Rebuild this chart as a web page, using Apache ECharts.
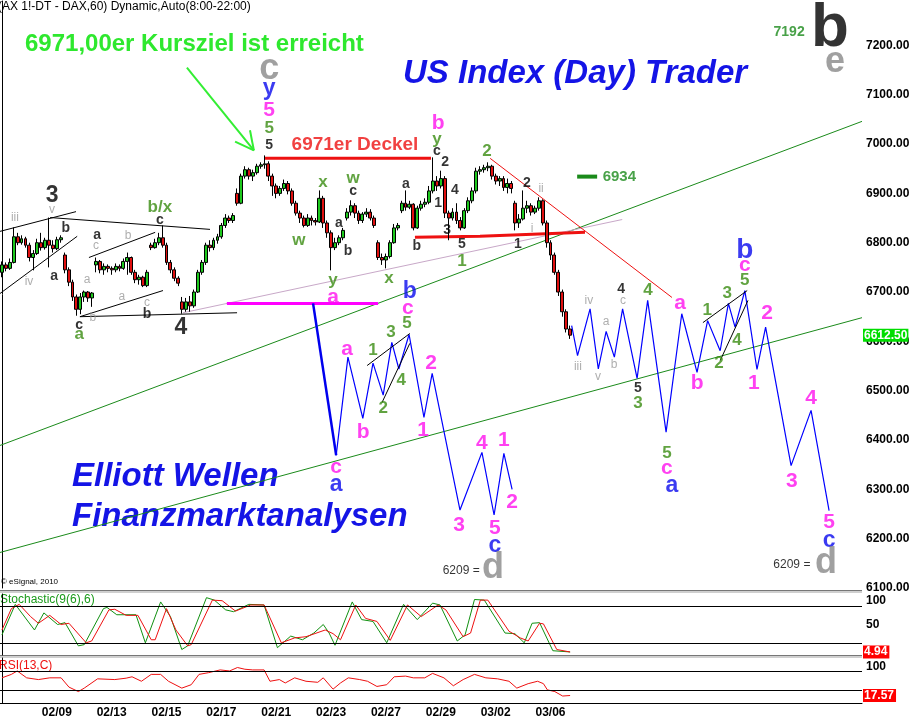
<!DOCTYPE html>
<html><head><meta charset="utf-8">
<script src="https://cdn.jsdelivr.net/npm/echarts@6/dist/echarts.min.js"></script>
<style>html,body{margin:0;padding:0;background:#fff}#c{width:920px;height:720px}</style>
</head><body><div id="c"></div>
<script>
// ---------- DATA ----------
const dateLabels = ['02/09','02/13','02/15','02/17','02/21','02/23','02/27','02/29','03/02','03/06'];
const barsPerDay = 14;
const nSlots = 220;
// candles: [open, close, low, high]
const candles = [
[6740,6755,6730,6762],[6755,6748,6742,6760],[6748,6760,6745,6768],[6760,6812,6758,6831],[6812,6800,6795,6820],
[6800,6808,6796,6815],[6808,6795,6790,6812],[6795,6770,6762,6800],[6770,6778,6744,6785],[6778,6800,6775,6808],
[6800,6790,6784,6820],[6790,6805,6786,6810],[6805,6795,6750,6851],[6795,6788,6780,6805],[6788,6806,6785,6812],
[6806,6810,6800,6815],[6775,6745,6738,6780],[6745,6720,6712,6750],[6720,6690,6682,6725],[6690,6665,6652,6695],
[6665,6690,6655,6698],[6690,6700,6680,6703],[6700,6688,6680,6702],[6688,6698,6670,6700],[6755,6762,6740,6770],
[6762,6745,6738,6765],[6745,6752,6735,6758],[6752,6748,6740,6756],[6748,6745,6735,6752],[6745,6752,6740,6758],
[6752,6748,6742,6756],[6748,6762,6745,6768],[6762,6770,6735,6780],[6770,6740,6735,6772],[6740,6725,6718,6745],
[6725,6730,6715,6735],[6730,6713,6710,6733],[6713,6740,6710,6745],[6795,6790,6785,6800],[6790,6800,6788,6808],
[6800,6810,6795,6820],[6810,6795,6790,6835],[6795,6760,6755,6800],[6760,6745,6738,6765],[6745,6728,6722,6750],
[6728,6718,6712,6732],[6680,6665,6656,6690],[6665,6680,6660,6688],[6680,6672,6660,6692],[6672,6700,6668,6705],
[6700,6740,6698,6745],[6740,6760,6735,6765],[6760,6795,6755,6800],[6795,6790,6782,6805],[6790,6805,6785,6810],
[6805,6812,6798,6818],[6812,6835,6808,6840],[6835,6850,6830,6858],[6850,6845,6840,6855],[6845,6855,6840,6860],
[6900,6880,6875,6910],[6880,6935,6878,6940],[6935,6948,6930,6955],[6948,6935,6928,6952],[6935,6942,6925,6948],
[6942,6955,6938,6960],[6955,6958,6950,6963],[6958,6960,6950,6977],[6960,6935,6925,6965],[6935,6915,6895,6940],
[6915,6900,6890,6920],[6900,6910,6895,6915],[6910,6920,6905,6928],[6920,6905,6898,6925],[6905,6880,6875,6910],
[6880,6860,6855,6885],[6860,6850,6840,6865],[6850,6835,6831,6855],[6835,6850,6832,6858],[6850,6845,6835,6855],
[6845,6842,6835,6850],[6842,6890,6840,6906],[6890,6840,6830,6895],[6840,6820,6810,6845],[6820,6790,6744,6825],
[6790,6800,6785,6810],[6800,6810,6795,6815],[6810,6825,6805,6830],[6850,6862,6845,6870],[6862,6875,6855,6886],
[6875,6860,6850,6880],[6860,6845,6838,6865],[6845,6858,6840,6862],[6858,6862,6852,6870],[6862,6850,6845,6868],
[6850,6835,6830,6855],[6800,6770,6765,6805],[6770,6765,6755,6778],[6765,6772,6748,6778],[6772,6800,6768,6805],
[6800,6830,6798,6838],[6830,6835,6825,6840],[6865,6880,6860,6885],[6880,6872,6865,6906],[6872,6878,6868,6885],
[6878,6830,6825,6880],[6830,6870,6828,6875],[6870,6878,6865,6885],[6878,6882,6872,6890],[6882,6905,6878,6915],
[6905,6925,6900,6973],[6925,6915,6905,6935],[6915,6930,6910,6946],[6930,6860,6850,6935],[6860,6850,6805,6865],
[6850,6862,6845,6870],[6862,6845,6838,6880],[6845,6830,6825,6852],[6830,6865,6828,6870],[6865,6885,6860,6892],
[6885,6905,6880,6912],[6905,6945,6900,6952],[6945,6948,6938,6955],[6948,6952,6942,6958],[6952,6955,6945,6963],
[6955,6935,6928,6958],[6935,6925,6918,6940],[6925,6930,6915,6935],[6930,6912,6905,6935],[6912,6920,6900,6930],
[6920,6910,6900,6925],[6880,6840,6825,6885],[6840,6848,6830,6858],[6848,6870,6845,6906],[6870,6875,6860,6885],
[6875,6862,6855,6880],[6862,6870,6858,6875],[6870,6885,6865,6892],[6885,6840,6835,6888],[6840,6800,6790,6845],
[6800,6775,6765,6805],[6775,6740,6735,6780],[6740,6700,6692,6745],[6700,6660,6650,6705],[6660,6625,6618,6665],
[6625,6612.5,6605,6632]
];
const lastPrice = 6612.5;
const deckel = 6971;
const level6934 = 6934;

// projections [slot index, price]
const scen1Lead = [[79.4,6677],[85.3,6369]];
const scen1 = [[85.3,6369],[88.3,6568],[92.1,6444],[94.7,6556],[97.3,6491],[99.5,6598],[101.3,6544],[103.9,6614],[107.7,6446],[109.8,6535],[116.9,6258],[122.5,6375],[125.6,6248],[128.1,6373],[130.2,6300]];
const scen2 = [[145.4,6632],[146.9,6571],[150.1,6666],[152.2,6544],[154.2,6620],[156.3,6568],[158.4,6666],[162.1,6525],[164.8,6683],[169.5,6416],[173.5,6656],[177.4,6537],[180.1,6642],[183.3,6581],[185.4,6677],[187.1,6629],[189.6,6703],[192.7,6543],[194.9,6629],[201.4,6348],[206.5,6460],[211.1,6257]];
const greenUpper = [[-0.5,6389],[219.5,7046]];
const greenLower = [[-0.5,6172],[219.5,6648]];
const redFall = [[124.6,6971],[171.0,6689]];
const deckelLine = [[67.1,deckel],[109.5,deckel]];
const redSupport = [[105.4,6811],[122,6813],[148.8,6821]];
const magentaLine = [[57.4,6677],[96.0,6677]];
const greyTrend = [[46.2,6658],[158.3,6847]];
const line6934 = [[146.8,level6934],[151.9,level6934]];
const blackSegs = [
 [[-0.5,6823],[18.9,6863]], [[-0.5,6697],[19.2,6813]], [[12.3,6851],[53.1,6827]],
 [[22.2,6770],[39.1,6821]], [[19.9,6650],[41.1,6703]], [[19.9,6650],[60.0,6658]],
 [[93.2,6551],[104.1,6616]], [[97.0,6476],[104.1,6596]],
 [[178.9,6638],[190.2,6703]], [[183.3,6561],[190.4,6683]]
];
const arrowSegs = [[[47.2,7155],[64.3,6987]], [[59.5,7005],[64.3,6987]], [[63.3,7028],[64.3,6987]]];

// wave labels [slot, price, text]
const lblMagenta = [[84.5,6689,'a'],[88.1,6584,'a'],[92.2,6416,'b'],[103.6,6668,'c'],[109.5,6556,'2'],[107.5,6420,'1'],[85.3,6345,'c'],[122.5,6394,'4'],[128.1,6400,'1'],[116.7,6228,'3'],[125.8,6221,'5'],[130.2,6274,'2'],[111.3,7042,'b'],[68.2,7068,'5'],[173.1,6677,'a'],[189.6,6754,'c'],[195.3,6657,'2'],[169.7,6343,'c'],[177.4,6515,'b'],[191.9,6515,'1'],[201.6,6317,'3'],[206.5,6485,'4'],[211.1,6234,'5']];
const lblBlue = [[68.2,7113,'y'],[104.1,6700,'b'],[85.3,6309,'a'],[125.8,6185,'c'],[171,6307,'a'],[211.1,6195,'c']];
const lblBlueBig = [[189.6,6785,'b']];
const lblGreen = [[68.2,7032,'5'],[40.3,6872,'b/x'],[19.7,6614,'a'],[75.8,6805,'w'],[81.9,6922,'x'],[89.6,6931,'w'],[84.5,6724,'y'],[98.8,6728,'x'],[111.0,7010,'y'],[117.4,6762,'1'],[123.8,6985,'2'],[103.4,6637,'5'],[99.3,6619,'3'],[94.7,6582,'1'],[101.9,6521,'4'],[97.3,6465,'2'],[164.9,6704,'4'],[180,6663,'1'],[185.1,6698,'3'],[189.6,6724,'5'],[187.6,6602,'4'],[183,6556,'2'],[162.3,6475,'3'],[169.7,6373,'5']];
const lblBlack = [[68.2,6997,'5'],[16.3,6829,'b'],[13.3,6732,'a'],[24.3,6815,'a'],[37.0,6655,'b'],[19.7,6633,'c'],[40.3,6845,'c'],[89.6,6904,'c'],[86.0,6839,'a'],[88.3,6783,'b'],[103.1,6918,'a'],[105.9,6793,'b'],[111.3,6880,'1'],[111.0,6985,'c'],[113.1,6963,'2'],[115.6,6906,'4'],[113.6,6825,'3'],[117.4,6797,'5'],[134,6920,'2'],[131.7,6797,'1'],[158,6706,'4'],[162.3,6505,'5']];
const lblBlackBig = [[12.8,6896,'3'],[45.7,6627,'4']];
const lblGrey = [[3.3,6850,'iii'],[12.8,6866,'v'],[6.9,6720,'iv'],[24.0,6793,'c'],[32.2,6815,'b'],[21.7,6726,'a'],[30.6,6691,'a'],[37.0,6679,'c'],[23.2,6647,'b'],[137.6,6910,'ii'],[135.3,6829,'i'],[149.8,6683,'iv'],[154.2,6639,'a'],[158.5,6683,'c'],[147,6548,'iii'],[156.2,6552,'b'],[152.1,6529,'v']];
const lblGreyBig = [[68.2,7153,'c'],[125.3,6140,'d'],[210.3,6151,'d'],[212.6,7166,'e']];
const lblTarget = [[117.2,6136,'6209 ='],[201.6,6148,'6209 =']];
const lblHugeB = [[211.3,7234,'b']];
const lbl7192 = [[200.9,7226,'7192']];
const lblDeckel = [[90.1,6999,'6971er Deckel']];
const lbl6934 = [[151.9,level6934,'6934']];

// indicators [slot, value]
const stochK = [[0,33],[3.4,83],[8.3,41],[10.7,69],[14.2,50],[16.1,53],[19.5,15],[21,17],[25.9,76],[26.8,78],[29.3,66],[34.2,66],[36.6,20],[37.1,17],[40.5,87],[43,63],[45.9,9],[47.4,15],[52.2,94],[54.2,90],[57.1,74],[59.1,71],[63,83],[66.9,82],[70.3,12],[73.7,31],[76.7,25],[79.6,36],[82,50],[83.5,36],[85,16],[89.4,87],[91.8,58],[94.7,55],[98.2,20],[102.5,83],[106,58],[109.9,85],[111.8,82],[116.2,23],[118.2,33],[120.6,91],[123.1,90],[128.4,36],[130.9,35],[133.3,20],[135.3,52],[137.2,53],[140.6,7],[145,5]];
const stochD = [[0,41],[2.4,76],[4.4,83],[7.3,63],[9.3,52],[12.2,65],[15.1,50],[17.1,52],[21.5,20],[22.9,23],[27.3,74],[28.8,75],[31.7,65],[34.7,65],[38.1,25],[39.1,25],[42,76],[44.4,41],[47.4,15],[48.3,17],[53.7,90],[56.2,89],[59.6,72],[63.5,82],[66.9,82],[71.3,20],[74.7,28],[77.6,30],[82.5,41],[84.5,35],[86.4,25],[90.3,82],[92.8,60],[95.7,55],[99.1,24],[103.5,82],[107,63],[111.3,82],[113.3,74],[117.7,30],[119.6,36],[122.1,90],[124,90],[129.4,39],[132.3,28],[134.3,23],[137.2,52],[138.2,51],[141.6,9],[145,4.94]];
const rsi = [[0,56.4],[2.4,64],[3.9,71.5],[6.3,56.4],[9.3,52.6],[12.2,56.4],[15.1,56.4],[17.1,36],[19.5,26.2],[21,33.8],[24.4,54.2],[28.8,52.6],[31.7,55.7],[33.2,58.7],[35.6,48.9],[38.1,64],[40.5,64],[42.5,48.9],[45.9,33.8],[48.3,41.3],[50.3,64],[52.7,67.7],[55.7,73.8],[58.1,71.5],[60.1,79.1],[62,75.3],[64,73.8],[66.9,73.8],[68.4,48.9],[70.8,52.6],[72.3,45.1],[74.7,56.4],[77.6,48.9],[80.6,46.6],[82,56.4],[84.5,31.5],[86.4,45.1],[88.4,56.4],[91.3,52.6],[93.3,48.9],[95.7,37.5],[98.2,41.3],[100.1,58.7],[103,60.2],[105,56.4],[107.9,56.4],[109.9,66.2],[112.8,56.4],[115.2,39],[117.7,52.6],[120.6,64],[123.5,56.4],[126.5,54.2],[129.4,48.9],[131.4,33.8],[134.3,43.6],[136.7,48.9],[138.2,43.6],[139.2,30],[141.1,26.2],[143.1,16.4],[145,17.57]];
const stochLast = 4.94, rsiLast = 17.57;
const stochBands = [80,20], rsiBands = [70,30];

// ---------- CHART ----------
const FONT = 'Liberation Sans, Arial, sans-serif';
const categories = Array.from({length:nSlots}, (_,i) => (i>0 && i%barsPerDay===0 && dateLabels[i/barsPerDay-1]) || '');
const chart = echarts.init(document.getElementById('c'), null, {renderer:'canvas'});

function lineS(data, color, width, xi, yi, extra) {
  return Object.assign({type:'line', xAxisIndex:xi===undefined?1:xi, yAxisIndex:yi===undefined?0:yi, data, symbol:'none', silent:true,
    lineStyle:{color, width}, z:3, animation:false}, extra||{});
}
function lblS(data, color, size, weight, extra) {
  return {type:'scatter', xAxisIndex:1, yAxisIndex:0, data, symbolSize:1, itemStyle:{color:'rgba(0,0,0,0)'}, silent:true, z:20, animation:false,
    label:Object.assign({show:true, position:'inside', formatter:p=>p.data[2], color, fontSize:size, fontWeight:weight||'bold', fontFamily:FONT}, extra||{})};
}
const series = [
  {type:'candlestick', xAxisIndex:0, yAxisIndex:0, data:candles, barWidth:3.4, z:5, animation:false,
   itemStyle:{color:'#1ec81e', color0:'#e01010', borderColor:'#000', borderColor0:'#000', borderWidth:1},
   markLine:{silent:true, symbol:'none', animation:false, lineStyle:{color:'rgba(0,0,0,0)', width:0},
     label:{show:true, position:'end', distance:1, formatter:lastPrice.toFixed(2), color:'#fff', backgroundColor:'#00dd00', fontWeight:'bold', fontSize:12, fontFamily:FONT, padding:[1,1,0,1]},
     data:[{yAxis:lastPrice}]}},
  lineS(greenUpper,'#1a8a1a',1),
  lineS(greenLower,'#1a8a1a',1),
  lineS(greyTrend,'#c8a8c8',1),
  lineS(redFall,'#ee1111',1),
  lineS(deckelLine,'#ee1111',3),
  lineS(redSupport,'#ee1111',3),
  lineS(magentaLine,'#ff00ff',3),
  lineS(line6934,'#1a8a1a',4),
  lineS(scen1Lead,'#0000ee',2.5),
  lineS(scen1,'#0000ff',1.2),
  lineS(scen2,'#0000ff',1.2),
  ...blackSegs.map(s=>lineS(s,'#000',1)),
  ...arrowSegs.map(s=>lineS(s,'#33ee33',2)),
  lblS(lblMagenta,'#ff11ee',21),
  lblS(lblBlue,'#0a0aee',23),
  lblS(lblBlueBig,'#0a0aee',28),
  lblS(lblGreen,'#3a8c12',17),
  lblS(lblBlack,'#000',14),
  lblS(lblBlackBig,'#000',23),
  lblS(lblGrey,'#9a9a9a',12,'normal'),
  lblS(lblGreyBig,'#888',36),
  lblS(lblTarget,'#000',12,'normal'),
  lblS(lblHugeB,'#000',62),
  lblS(lbl7192,'#1a8a1a',14),
  lblS(lblDeckel,'#ee1111',19),
  lblS(lbl6934,'#1a8a1a',15,'bold',{position:'right', distance:5}),
  // stochastic
  lineS(stochK,'#109010',1,2,1),
  lineS(stochD,'#ee1010',1,2,1,{markLine:{silent:true, symbol:'none', animation:false, lineStyle:{color:'#000', width:1, type:'solid'}, label:{show:false},
     data:stochBands.map(v=>({yAxis:v}))}}),
  lineS([[145,stochLast]],'rgba(0,0,0,0)',0,2,1,{markLine:{silent:true, symbol:'none', animation:false, lineStyle:{color:'rgba(0,0,0,0)', width:0},
     label:{show:true, position:'end', distance:1, formatter:stochLast.toFixed(2), color:'#fff', backgroundColor:'#ff0000', fontWeight:'bold', fontSize:12, fontFamily:FONT, padding:[1,2,0,1]},
     data:[{yAxis:stochLast}]}}),
  // rsi
  lineS(rsi,'#ee1010',1,3,2,{markLine:{silent:true, symbol:'none', animation:false, lineStyle:{color:'#000', width:1, type:'solid'}, label:{show:false},
     data:rsiBands.map(v=>({yAxis:v}))}}),
  lineS([[145,rsiLast]],'rgba(0,0,0,0)',0,3,2,{markLine:{silent:true, symbol:'none', animation:false, lineStyle:{color:'rgba(0,0,0,0)', width:0},
     label:{show:true, position:'end', distance:1, formatter:rsiLast.toFixed(2), color:'#fff', backgroundColor:'#ff0000', fontWeight:'bold', fontSize:12, fontFamily:FONT, padding:[1,2,0,1]},
     data:[{yAxis:rsiLast}]}})
];

const axLbl = {color:'#000', fontWeight:'bold', fontSize:12, fontFamily:FONT};
const valX = gi => ({type:'value', gridIndex:gi, min:-0.5, max:nSlots-0.5, show:false, position:'top'});
const option = {
  backgroundColor:'#fff',
  animation:false,
  grid:[
    {left:0, width:862, top:1, height:587},
    {left:0, width:862, top:594, height:61},
    {left:0, width:862, top:658, height:45.5}
  ],
  xAxis:[
    {type:'category', gridIndex:0, data:categories, show:false, boundaryGap:true, position:'bottom'},
    valX(0), valX(1), valX(2),
    {type:'category', gridIndex:2, data:categories, boundaryGap:true, position:'bottom',
     axisLine:{lineStyle:{color:'#000', width:1}}, axisTick:{show:false}, splitLine:{show:false},
     axisLabel:Object.assign({interval:(i,v)=>v!=='', margin:3}, axLbl)}
  ],
  yAxis:[
    {type:'value', gridIndex:0, position:'right', min:6100, max:7290, interval:100, splitLine:{show:false},
     axisLine:{show:true, lineStyle:{color:'#000'}}, axisTick:{show:false},
     axisLabel:Object.assign({margin:4, showMaxLabel:false, formatter:v=>v.toFixed(2)}, axLbl)},
    {type:'value', gridIndex:1, position:'right', min:0, max:100, interval:50, splitLine:{show:false},
     axisLine:{show:true, lineStyle:{color:'#000'}}, axisTick:{show:false},
     axisLabel:Object.assign({margin:4, formatter:v=>v===100?'{d|100}':(v===50?'50':''), rich:{d:{padding:[14,0,0,0], fontWeight:'bold', fontSize:12, fontFamily:FONT}}}, axLbl)},
    {type:'value', gridIndex:2, position:'right', min:0, max:100, interval:100, splitLine:{show:false},
     axisLine:{show:true, lineStyle:{color:'#000'}}, axisTick:{show:false},
     axisLabel:Object.assign({margin:4, formatter:v=>v===100?'{d|100}':'', rich:{d:{padding:[18,0,0,0], fontWeight:'bold', fontSize:12, fontFamily:FONT}}}, axLbl)}
  ],
  graphic:[
    {type:'rect', left:0, top:590, shape:{width:862, height:3}, style:{fill:'#cfcfcf'}, silent:true},
    {type:'rect', left:0, top:590, shape:{width:862, height:1}, style:{fill:'#777'}, silent:true},
    {type:'rect', left:0, top:655, shape:{width:862, height:3}, style:{fill:'#cfcfcf'}, silent:true},
    {type:'rect', left:0, top:655, shape:{width:862, height:1}, style:{fill:'#777'}, silent:true},
    {type:'text', left:-2, top:1, style:{text:'(AX 1!-DT - DAX,60) Dynamic,Auto(8:00-22:00)', font:'12px '+FONT, fill:'#000'}},
    {type:'text', left:25, top:32, style:{text:'6971,00er Kursziel ist erreicht', font:'bold 24px '+FONT, fill:'#2ee82e'}},
    {type:'text', left:403, top:57, style:{text:'US Index (Day) Trader', font:'italic bold 33px '+FONT, fill:'#1414e6'}},
    {type:'text', left:72, top:460, style:{text:'Elliott Wellen', font:'italic bold 33px '+FONT, fill:'#1414e6'}},
    {type:'text', left:72, top:500, style:{text:'Finanzmarktanalysen', font:'italic bold 33px '+FONT, fill:'#1414e6'}},
    {type:'text', left:1, top:578, style:{text:'\u00a9 eSignal, 2010', font:'8px '+FONT, fill:'#000'}},
    {type:'text', left:0, top:594, style:{text:'Stochastic(9(6),6)', font:'12px '+FONT, fill:'#1a9a1a'}},
    {type:'text', left:-1, top:660, style:{text:'RSI(13,C)', font:'12px '+FONT, fill:'#ee1010'}}
  ],
  series
};
chart.setOption(option);
</script></body></html>
